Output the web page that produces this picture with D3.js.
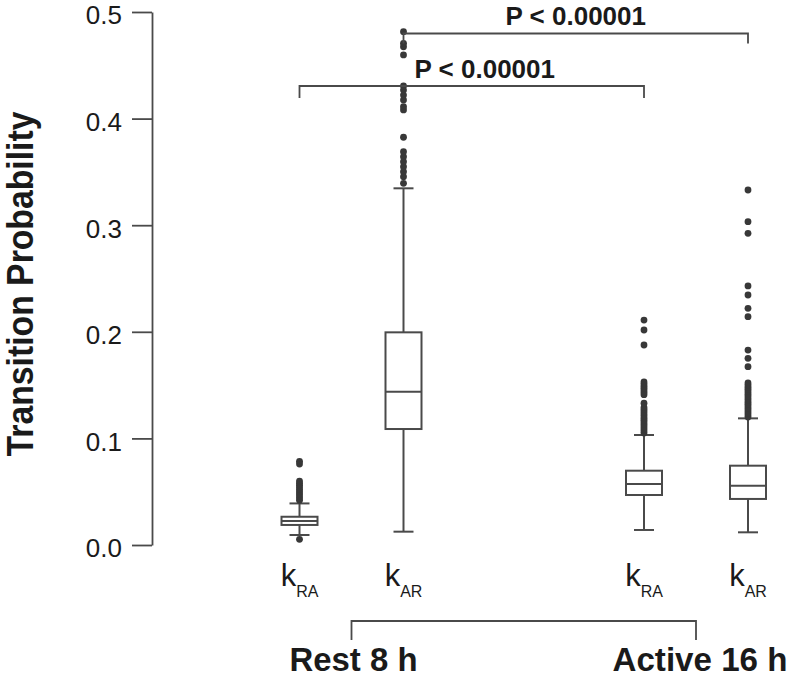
<!DOCTYPE html>
<html>
<head>
<meta charset="utf-8">
<script src="https://cdn.jsdelivr.net/npm/d3@7"></script>
<style>
  body { margin: 0; background: #fff; }
  svg { display: block; font-family: 'Liberation Sans', Arial, sans-serif; }
</style>
</head>
<body>
<div id="chart"></div>
<script>
let width = 794, height = 679

// DATA
let groups = ['Rest 8 h', 'Active 16 h']
let rates = ['RA', 'AR']
let yTicks = [0.0, 0.1, 0.2, 0.3, 0.4, 0.5]

let boxGroup = ['Rest 8 h', 'Rest 8 h', 'Active 16 h', 'Active 16 h']
let boxRate = ['RA', 'AR', 'RA', 'AR']
let whiskerLow = [0.0094, 0.0125, 0.0141, 0.0119]
let q1 = [0.0188, 0.1088, 0.0469, 0.0432]
let medians = [0.0225, 0.1438, 0.0572, 0.0556]
let q3 = [0.0265, 0.1995, 0.0697, 0.0744]
let whiskerHigh = [0.0390, 0.3346, 0.1032, 0.1188]

let outliersRestRA = [0.0053, 0.042, 0.044, 0.046, 0.048, 0.050, 0.052, 0.054,
  0.056, 0.058, 0.060, 0.0760, 0.0785]
let outliersRestAR = [0.3393, 0.3455, 0.3502, 0.3549, 0.3596, 0.3643, 0.3690,
  0.3825, 0.4081, 0.4112, 0.4175, 0.4221, 0.4268, 0.4306, 0.4597, 0.4674,
  0.4706, 0.4815]
let outliersActiveRA = [0.105, 0.107, 0.109, 0.111, 0.113, 0.115, 0.117, 0.119,
  0.121, 0.123, 0.125, 0.127, 0.129, 0.133, 0.141, 0.143, 0.145, 0.147, 0.149,
  0.151, 0.153, 0.1876, 0.2017, 0.211]
let outliersActiveAR = [0.120, 0.122, 0.124, 0.126, 0.128, 0.130, 0.132, 0.134,
  0.136, 0.138, 0.140, 0.142, 0.144, 0.146, 0.148, 0.150, 0.152, 0.1673, 0.1751,
  0.1829, 0.2142, 0.222, 0.2345, 0.243, 0.2924, 0.3033, 0.333]
let outliers = [outliersRestRA, outliersRestAR, outliersActiveRA, outliersActiveAR]

// comparisons: box index from / to
let pLabels = ['P < 0.00001', 'P < 0.00001']
let pFrom = [0, 1]
let pTo = [2, 3]

// SCALES
let y = d3.scaleLinear()
  .domain([0, 0.5])
  .range([545, 12])

let xGroup = d3.scalePoint()
  .domain(groups)
  .range([351.5, 696])

let xRate = d3.scalePoint()
  .domain(rates)
  .range([-52, 52])

function xBox(i) {
  return xGroup(boxGroup[i]) + xRate(boxRate[i])
}

let svg = d3.select('#chart')
  .append('svg')
  .attr('width', width)
  .attr('height', height)

let lineColor = '#4a4a4a'
let dotColor = '#383838'
let textColor = '#1a1a1a'

// Y AXIS
let yAxis = svg.append('g')
  .attr('transform', 'translate(152,0)')
  .call(d3.axisLeft(y)
    .tickValues(yTicks)
    .tickSize(20)
    .tickSizeOuter(0)
    .tickPadding(10)
    .tickFormat(d3.format('.1f')))

yAxis.select('.domain')
  .attr('stroke', lineColor)
  .attr('stroke-width', 1.8)
yAxis.selectAll('.tick line')
  .attr('stroke', lineColor)
  .attr('stroke-width', 1.8)
yAxis.selectAll('.tick text')
  .attr('fill', textColor)
  .style('font-size', '26px')
  .style('font-family', "'Liberation Sans', Arial, sans-serif")
  .attr('dy', '0.46em')

svg.append('text')
  .attr('transform', 'translate(33,284) rotate(-90)')
  .attr('text-anchor', 'middle')
  .attr('fill', textColor)
  .attr('font-weight', 'bold')
  .attr('font-size', 37)
  .attr('textLength', 345)
  .attr('lengthAdjust', 'spacingAndGlyphs')
  .text('Transition Probability')

// BOXES
let boxW = 36, capW = 20
let idx = d3.range(boxGroup.length)

let boxes = svg.selectAll('.box')
  .data(idx)
  .enter().append('g')
  .attr('class', 'box')
  .attr('transform', function (i) { return 'translate(' + xBox(i) + ',0)' })

boxes.append('line')
  .attr('x1', 0).attr('x2', 0)
  .attr('y1', function (i) { return y(whiskerLow[i]) })
  .attr('y2', function (i) { return y(q1[i]) })
boxes.append('line')
  .attr('x1', 0).attr('x2', 0)
  .attr('y1', function (i) { return y(q3[i]) })
  .attr('y2', function (i) { return y(whiskerHigh[i]) })
boxes.append('line')
  .attr('x1', -capW / 2).attr('x2', capW / 2)
  .attr('y1', function (i) { return y(whiskerLow[i]) })
  .attr('y2', function (i) { return y(whiskerLow[i]) })
boxes.append('line')
  .attr('x1', -capW / 2).attr('x2', capW / 2)
  .attr('y1', function (i) { return y(whiskerHigh[i]) })
  .attr('y2', function (i) { return y(whiskerHigh[i]) })
boxes.append('rect')
  .attr('x', -boxW / 2)
  .attr('width', boxW)
  .attr('y', function (i) { return y(q3[i]) })
  .attr('height', function (i) { return y(q1[i]) - y(q3[i]) })
  .attr('fill', '#fff')
boxes.append('line')
  .attr('x1', -boxW / 2).attr('x2', boxW / 2)
  .attr('y1', function (i) { return y(medians[i]) })
  .attr('y2', function (i) { return y(medians[i]) })

boxes.selectAll('line, rect')
  .attr('stroke', lineColor)
  .attr('stroke-width', 2)

boxes.selectAll('circle')
  .data(function (i) { return outliers[i] })
  .enter().append('circle')
  .attr('cx', 0)
  .attr('cy', function (d) { return y(d) })
  .attr('r', 3.4)
  .attr('fill', dotColor)

// X LABELS (k with subscript)
let kLabels = svg.selectAll('.klabel')
  .data(idx)
  .enter().append('text')
  .attr('class', 'klabel')
  .attr('x', function (i) { return xBox(i) })
  .attr('y', 586)
  .attr('text-anchor', 'middle')
  .attr('fill', textColor)
  .attr('font-size', 31)
kLabels.append('tspan').text('k')
kLabels.append('tspan')
  .attr('dy', 11)
  .attr('font-size', 16)
  .text(function (i) { return boxRate[i] })

// GROUP BRACKET AND LABELS
svg.append('path')
  .attr('d', 'M' + xGroup(groups[0]) + ',640V621H' + xGroup(groups[1]) + 'V640')
  .attr('fill', 'none')
  .attr('stroke', lineColor)
  .attr('stroke-width', 1.8)

let groupLen = [128, 175]
svg.selectAll('.glabel')
  .data(groups)
  .enter().append('text')
  .attr('class', 'glabel')
  .attr('x', function (d, i) { return xGroup(d) + (i === 0 ? 2 : 4) })
  .attr('y', 671)
  .attr('text-anchor', 'middle')
  .attr('fill', textColor)
  .attr('font-weight', 'bold')
  .attr('font-size', 34)
  .attr('textLength', function (d, i) { return groupLen[i] })
  .attr('lengthAdjust', 'spacingAndGlyphs')
  .text(function (d) { return d })

// SIGNIFICANCE BRACKETS
let bracketY = [86, 33.5]
let bracketDrop = [12, 10]
let labelDx = [13, 0]
pLabels.forEach(function (label, k) {
  let x1 = xBox(pFrom[k]), x2 = xBox(pTo[k])
  let by = bracketY[k]
  svg.append('path')
    .attr('d', 'M' + x1 + ',' + (by + bracketDrop[k]) + 'V' + by + 'H' + x2 + 'V' + (by + bracketDrop[k]))
    .attr('fill', 'none')
    .attr('stroke', lineColor)
    .attr('stroke-width', 1.8)
  svg.append('text')
    .attr('x', (x1 + x2) / 2 + labelDx[k])
    .attr('y', by - 8.5)
    .attr('text-anchor', 'middle')
    .attr('fill', textColor)
    .attr('font-weight', 'bold')
    .attr('font-size', 26)
    .text(label)
})
</script>
</body>
</html>
